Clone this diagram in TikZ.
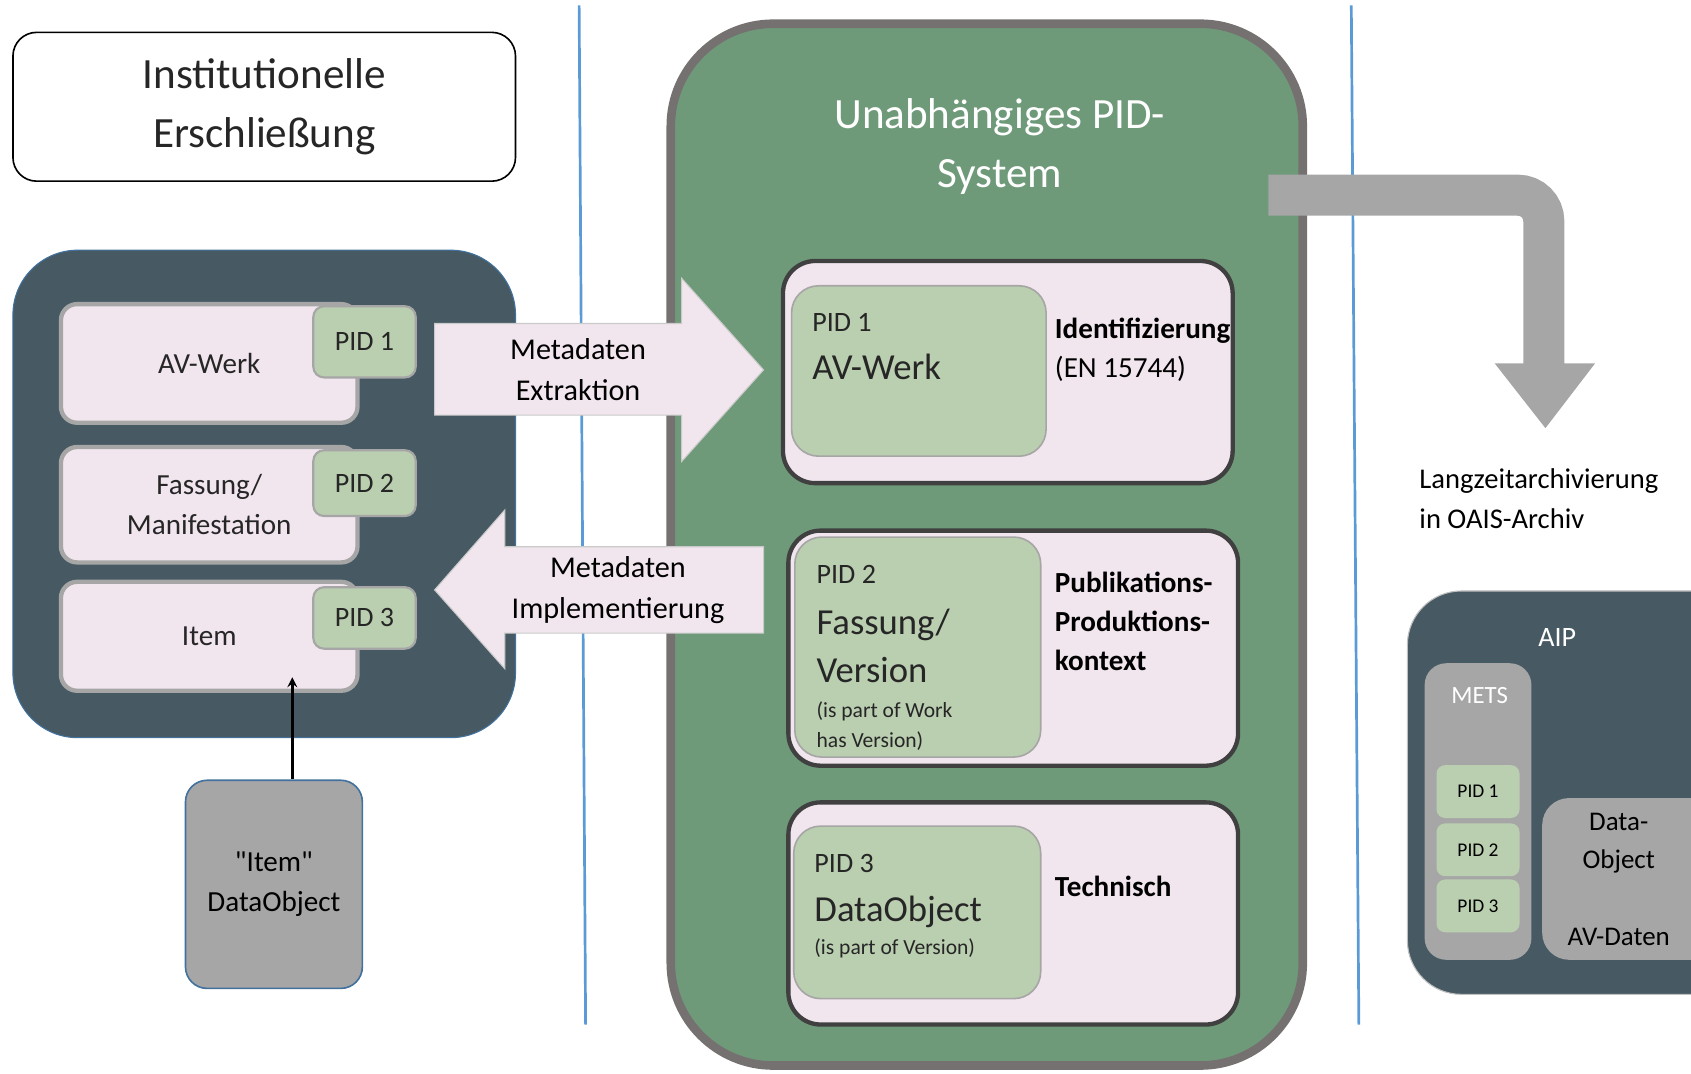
\documentclass[tikz,border=0pt]{standalone}
\usepackage{fontspec}
\setmainfont{Carlito}
\newfontfamily\plainquote{Carlito}
\usepackage{tikz}
\usetikzlibrary{shapes.geometric,arrows}

\definecolor{slate}{HTML}{475A63}
\definecolor{paleRose}{HTML}{F2E6EE}
\definecolor{sage}{HTML}{BACEB0}
\definecolor{pidGreen}{HTML}{6F9A79}
\definecolor{frameGrey}{HTML}{767171}
\definecolor{boxGrey}{HTML}{A6A6A6}
\definecolor{lineBlue}{HTML}{5B9BD5}
\definecolor{edgeBlue}{HTML}{41719C}
\definecolor{inkGrey}{HTML}{262626}

\tikzstyle{heading} = [rectangle, rounded corners=22pt, minimum width=466pt, minimum height=138pt, align=center, draw=black, line width=1.5pt, fill=white, text=inkGrey, font=\fontsize{40}{55}\selectfont]
\tikzstyle{panel} = [rectangle, rounded corners=60pt, draw=edgeBlue, line width=1pt, fill=slate]
\tikzstyle{record} = [rectangle, rounded corners=15pt, minimum width=275pt, draw=boxGrey, line width=4pt, fill=paleRose, align=center, text=inkGrey, font=\fontsize{27}{37}\selectfont]
\tikzstyle{pidtag} = [rectangle, rounded corners=10pt, minimum width=95pt, draw=boxGrey, line width=2pt, fill=sage, text=inkGrey, font=\fontsize{26}{30}\selectfont]
\tikzstyle{dataobj} = [rectangle, rounded corners=20pt, minimum width=164pt, minimum height=193pt, draw=edgeBlue, line width=1.5pt, fill=boxGrey, align=center, text=black, font=\fontsize{27}{37}\selectfont]
\tikzstyle{arrow} = [line width=3pt,->,>=stealth]
\tikzstyle{blockarrow} = [draw=boxGrey!60, line width=1pt, fill=paleRose]
\tikzstyle{arrowlabel} = [align=center, text=black, font=\fontsize{28}{38}\selectfont]
\tikzstyle{divider} = [lineBlue, line width=2.5pt]
\tikzstyle{pidsystem} = [rectangle, rounded corners=95pt, minimum width=586pt, minimum height=966pt, draw=frameGrey, line width=8pt, fill=pidGreen]
\tikzstyle{layer} = [rectangle, rounded corners=30pt, minimum width=417pt, draw=black!75, line width=4pt, fill=paleRose]
\tikzstyle{pidcard} = [rectangle, rounded corners=25pt, draw=boxGrey, line width=1.5pt, fill=sage]
\tikzstyle{pidsmall} = [anchor=base west, inner sep=0pt, text=inkGrey, font=\fontsize{26}{30}\selectfont]
\tikzstyle{pidbig} = [anchor=base west, inner sep=0pt, text=inkGrey, font=\fontsize{34}{42}\selectfont]
\tikzstyle{pidnote} = [anchor=base west, inner sep=0pt, text=inkGrey, font=\fontsize{20}{28}\selectfont]
\tikzstyle{context} = [anchor=base west, inner sep=0pt, text=black, font=\bfseries\fontsize{27}{37}\selectfont]
\tikzstyle{contextplain} = [anchor=base west, inner sep=0pt, text=black, font=\fontsize{27}{37}\selectfont]
\tikzstyle{aip} = [rectangle, rounded corners=50pt, minimum width=315pt, minimum height=374pt, draw=black!25, line width=1pt, fill=slate]
\tikzstyle{mets} = [rectangle, rounded corners=20pt, minimum width=99pt, minimum height=275pt, fill=boxGrey]
\tikzstyle{metspid} = [rectangle, rounded corners=8pt, minimum width=77pt, minimum height=49pt, fill=sage, text=black, font=\fontsize{18}{22}\selectfont]
\tikzstyle{avdata} = [rectangle, rounded corners=25pt, minimum width=190pt, minimum height=150pt, fill=boxGrey]

\begin{document}
\begin{tikzpicture}[x=1pt,y=-1pt]
\useasboundingbox (0,0) rectangle (1568,995);
\clip (0,0) rectangle (1568,995);

% dividers
\draw [divider] (537,5) -- (543,950);
\draw [divider] (1253,5) -- (1260,950);

% left: institutional side
\node (inst) [heading] at (245,99) {Institutionelle\\Erschließung};
\node (local) [panel, minimum width=466pt, minimum height=452pt] at (245,458) {};
\node (werk) [record, minimum height=110pt] at (194,337) {AV-Werk};
\node (pidA) [pidtag, minimum height=66pt] at (338,317) {PID 1};
\node (fassung) [record, minimum height=107pt] at (194,468) {Fassung/\\Manifestation};
\node (pidB) [pidtag, minimum height=61pt] at (338,448) {PID 2};
\node (item) [record, minimum height=101pt] at (194,590) {Item};
\node (pidC) [pidtag, minimum height=57pt] at (338,573) {PID 3};
\node (itemdata) [dataobj] at (254,820) {{\plainquote "Item"}\\DataObject};
\coordinate (itemin) at (271,628);
\draw [arrow] ([xshift=17pt]itemdata.north) -- (itemin);

% PID system
\node (pidsys) [pidsystem] at (915,505) {};
\node (pidtitle) [align=center, text=white, font=\fontsize{40}{55}\selectfont] at (927,136) {Unabhängiges PID-\\System};

% metadata flows
\draw [blockarrow] (403,300) -- (632,300) -- (632,258) -- (708,343) -- (632,428) -- (632,385) -- (403,385) -- cycle;
\node (extr) [arrowlabel] at (536,343) {Metadaten\\Extraktion};
\draw [blockarrow] (708,507) -- (468,507) -- (468,473) -- (403,547) -- (468,620) -- (468,587) -- (708,587) -- cycle;
\node (impl) [arrowlabel] at (573,547) {Metadaten\\Implementierung};

\node (layerA) [layer, minimum height=206pt] at (934.5,345) {};
\node (cardA) [pidcard, minimum width=236pt, minimum height=158pt] at (852,344) {};
\node (lblPidA) [pidsmall] at (753,307) {PID 1};
\node (lblWerk) [pidbig] at (753,352) {AV-Werk};
\node (ctxA) [context] at (978,314) {Identifizierung};
\node (ctxAnorm) [contextplain] at (978,350) {(EN 15744)};

\node (layerB) [layer, minimum height=218pt] at (939.5,601) {};
\node (cardB) [pidcard, minimum width=228pt, minimum height=204pt] at (851,600) {};
\node (lblPidB) [pidsmall] at (757,541) {PID 2};
\node (lblFassung) [pidbig] at (757,588) {Fassung/};
\node (lblVersion) [pidbig] at (757,633) {Version};
\node (noteB1) [pidnote] at (757,665) {(is part of Work};
\node (noteB2) [pidnote] at (757,693) {has Version)};
\node (ctxB1) [context] at (978,549) {Publikations-};
\node (ctxB2) [context] at (978,586) {Produktions-};
\node (ctxB3) [context] at (978,622) {kontext};

\node (layerC) [layer, minimum height=206pt] at (939.5,847) {};
\node (cardC) [pidcard, minimum width=229pt, minimum height=160pt] at (850.5,846) {};
\node (lblPidC) [pidsmall] at (755,809) {PID 3};
\node (lblData) [pidbig] at (755,854) {DataObject};
\node (noteC) [pidnote] at (755,885) {(is part of Version)};
\node (ctxC) [context] at (978,831) {Technisch};

% hand-over to the archive
\draw [boxGrey, line width=38pt, rounded corners=24pt] (1176,181) -- (1431.5,181) -- (1431.5,340);
\fill [boxGrey] (1386,337) -- (1479,337) -- (1433,397) -- cycle;
\node (ltp) [anchor=west, inner sep=0pt, align=left, text=black, font=\fontsize{26.5}{37}\selectfont] at (1316,462) {Langzeitarchivierung\\in OAIS-Archiv};

% AIP
\node (aipbox) [aip] at (1462.5,735) {};
\node (aiplbl) [text=white, font=\fontsize{26}{30}\selectfont] at (1444,591) {AIP};
\node (metsbox) [mets] at (1370.5,752.5) {};
\node (metslbl) [text=white, font=\fontsize{23}{28}\selectfont] at (1372,645) {METS};
\node (metsA) [metspid] at (1370.5,734) {PID 1};
\node (metsB) [metspid] at (1370.5,788) {PID 2};
\node (metsC) [metspid] at (1370.5,840) {PID 3};
\node (avbox) [avdata] at (1525,815) {};
\node (avlbl) [align=center, text=black, font=\fontsize{25}{35}\selectfont] at (1501,782) {Data-\\Object};
\node (avdaten) [text=black, font=\fontsize{25}{30}\selectfont] at (1501,869) {AV-Daten};
\end{tikzpicture}
\end{document}
